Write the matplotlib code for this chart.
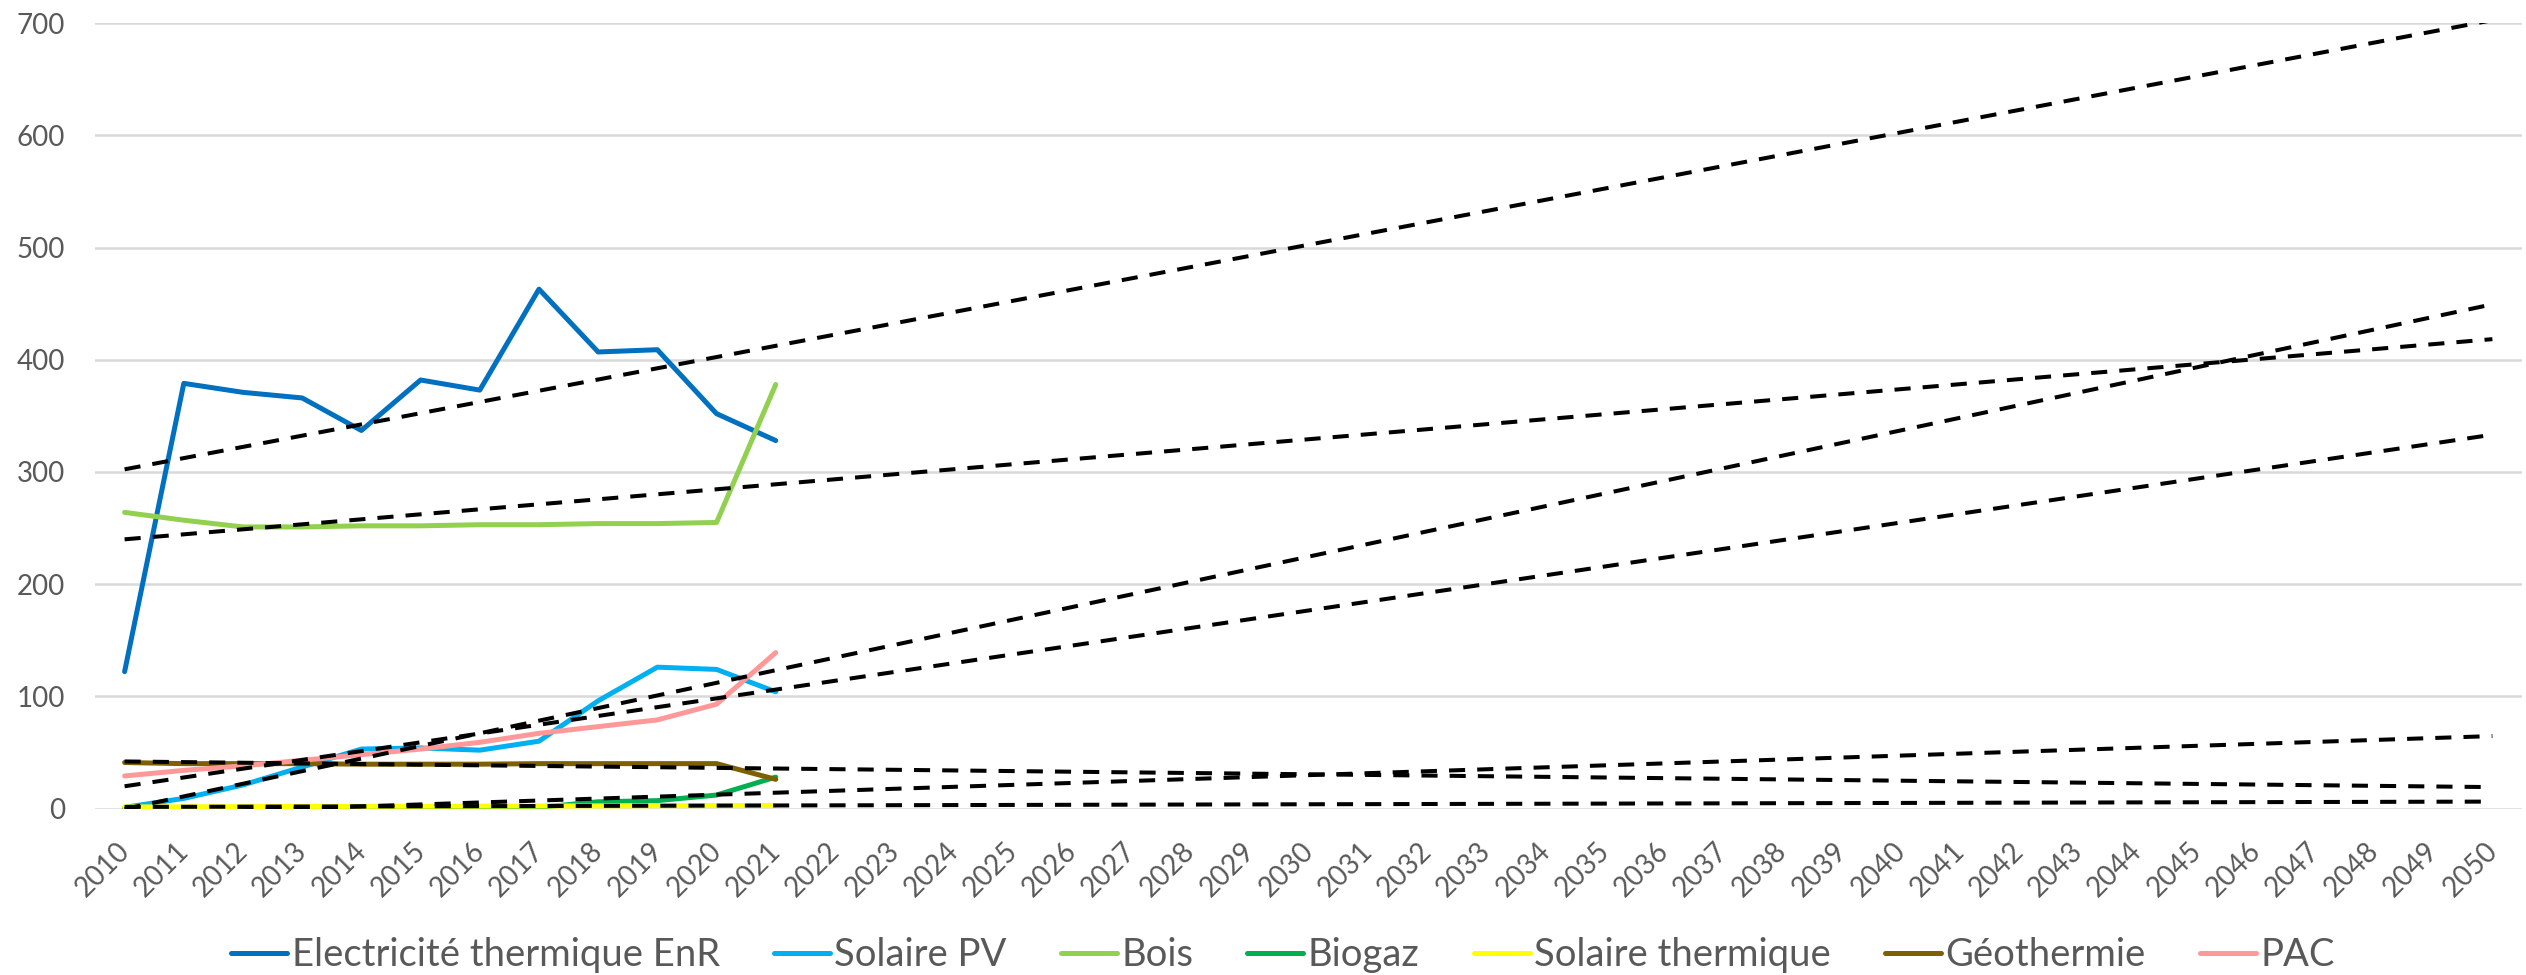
import numpy as np
import matplotlib
matplotlib.use("Agg")
import matplotlib.pyplot as plt
import matplotlib.transforms as mtransforms

plt.rcParams["font.family"] = ["Lato", "DejaVu Sans"]

years = list(range(2010, 2022))
axis_years = list(range(2010, 2051))

elec_enr = [122, 379, 371, 366, 337, 382, 373, 463, 407, 409, 352, 328]
solaire_pv = [1, 9, 21, 37, 53, 54, 52, 60, 96, 126, 124, 104]
bois = [264, 257, 251, 251, 252, 252, 253, 253, 254, 254, 255, 378]
biogaz = [0, 0, 0, 0, 0, 0, 0, 1, 6, 7, 12, 28]
solaire_th = [1.4, 1.5, 1.6, 1.8, 1.9, 2.0, 2.1, 2.2, 2.3, 2.5, 2.6, 2.7]
geothermie = [41, 40, 40, 40, 39.5, 39.5, 39.5, 40, 40, 40, 40, 26]
pac = [29, 34, 38, 43, 48, 53, 59, 67, 73, 79, 93, 139]

labels = ["Electricité thermique EnR", "Solaire PV", "Bois", "Biogaz",
          "Solaire thermique", "Géothermie", "PAC"]
series = [elec_enr, solaire_pv, bois, biogaz, solaire_th, geothermie, pac]
colors = ["#0070C0", "#00B0F0", "#92D050", "#00B050", "#FFFF00", "#7F6000", "#FF9999"]

text_grey = "#595959"
grid_grey = "#D9D9D9"

fig = plt.figure(figsize=(25.26, 9.75), dpi=100)
ax = fig.add_axes([95 / 2526, 1 - 808.5 / 975, (2522 - 95) / 2526, (808.5 - 23.3) / 975])

for vals, lab, col in zip(series, labels, colors):
    ax.plot(years, vals, color=col, lw=3.6, label=lab, solid_capstyle="round",
            solid_joinstyle="round", zorder=3)

# linear trend of each series, extended to 2050
x_fit = np.array(years) - years[0]
x_ext = np.array(axis_years)
for vals in series:
    slope, intercept = np.polyfit(x_fit, vals, 1)
    ax.plot(x_ext, intercept + slope * (x_ext - years[0]), color="black",
            lw=2.9, dashes=(4, 3), zorder=4)

ax.set_xlim(2009.5, 2050.5)
ax.set_ylim(0, 700)
ax.set_yticks(range(0, 701, 100))
ax.set_xticks(axis_years)
ax.set_xticklabels([str(y) for y in axis_years], rotation=45, ha="right")
ax.tick_params(axis="both", length=0, labelsize=20, labelcolor=text_grey)
ax.tick_params(axis="x", pad=21)
ax.tick_params(axis="y", pad=21.5)

# nudge the slanted year labels a little to the right of their tick
shift = mtransforms.ScaledTranslation(10 / 100, 0, fig.dpi_scale_trans)
for lbl in ax.get_xticklabels():
    lbl.set_transform(lbl.get_transform() + shift)

ax.grid(axis="y", color=grid_grey, lw=1.8)
ax.set_axisbelow(True)
for sp in ax.spines.values():
    sp.set_visible(False)

fig.legend(loc="center", bbox_to_anchor=(1283 / 2526, 1 - 955 / 975), ncol=7,
           frameon=False, fontsize=27.5, labelcolor=text_grey, handlelength=1.47,
           handletextpad=0.12, columnspacing=1.41, borderaxespad=0)

fig.savefig("out.png", dpi=100)
